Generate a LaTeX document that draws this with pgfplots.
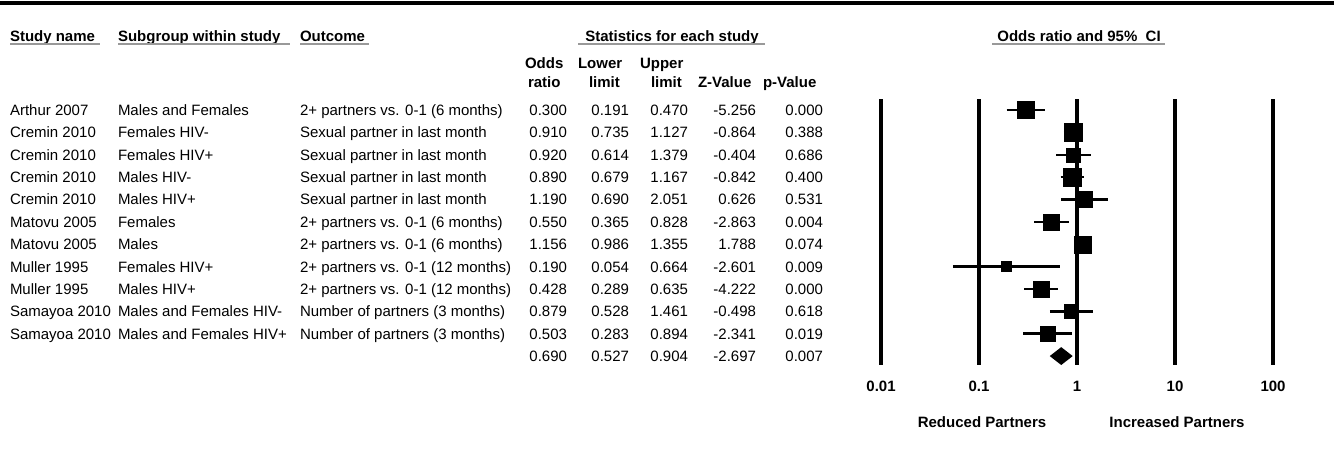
\documentclass[border=0pt]{standalone}
\usepackage{pgfplots}
\pgfplotsset{compat=1.18}
\usepackage{fontspec}
\setmainfont{Liberation Sans}

\newcommand{\trow}[9]{%
  \pgfmathsetmacro\yb{110+22.36*(#1-1)+5.5}%
  \node[anchor=base west] at (10,\yb) {#2};
  \node[anchor=base west] at (118,\yb) {#3};
  \node[anchor=base west] at (300,\yb) {#4};
  \node[anchor=base east] at (567,\yb) {#5};
  \node[anchor=base east] at (629,\yb) {#6};
  \node[anchor=base east] at (688,\yb) {#7};
  \node[anchor=base east] at (756,\yb) {#8};
  \node[anchor=base east] at (823,\yb) {#9};
}
\newcommand{\study}[5]{%
  \addplot[black, line width=2.5bp] coordinates {(#3,#1) (#4,#1)};
  \addplot[only marks, mark=square*, mark size=#5bp, mark options={draw=none, fill=black}] coordinates {(#2,#1)};
}

\begin{document}
\fontsize{15bp}{18bp}\selectfont
\begin{tikzpicture}
\begin{scope}[x=1bp, y=-1bp, every node/.style={inner sep=0pt, outer sep=0pt}]
\path[use as bounding box] (0,0) rectangle (1334,466);
\draw[line width=3.5bp] (0,3) -- (1334,3);

% headers
\begin{scope}[font=\bfseries]
\node[anchor=base west] at (10,41.5) {Study name};
\node[anchor=base west] at (118,41.5) {Subgroup within study};
\node[anchor=base west] at (300,41.5) {Outcome};
\node[anchor=base] at (672,41.5) {Statistics for each study};
\node[anchor=base] at (1079,41.5) {Odds ratio and 95\%\ \ CI};
\node[anchor=base west] at (525,68.5) {Odds};
\node[anchor=base west] at (528,87.5) {ratio};
\node[anchor=base west] at (578,68.5) {Lower};
\node[anchor=base west] at (589,87.5) {limit};
\node[anchor=base west] at (640,68.5) {Upper};
\node[anchor=base west] at (651,87.5) {limit};
\node[anchor=base west] at (698,87.5) {Z-Value};
\node[anchor=base west] at (763,87.5) {p-Value};
\node[anchor=base] at (982,427.5) {Reduced Partners};
\node[anchor=base] at (1177,427.5) {Increased Partners};
\end{scope}
\begin{scope}[gray!80, line width=1.2bp]
\draw (10,44) -- (100,44);
\draw (118,44) -- (290,44);
\draw (300,44) -- (369,44);
\draw (578,44) -- (765,44);
\draw (992,44) -- (1165,44);
\end{scope}

\trow{1}{Arthur 2007}{Males and Females}{2+ partners vs. 0-1 (6 months)}{0.300}{0.191}{0.470}{-5.256}{0.000}
\trow{2}{Cremin 2010}{Females HIV-}{Sexual partner in last month}{0.910}{0.735}{1.127}{-0.864}{0.388}
\trow{3}{Cremin 2010}{Females HIV+}{Sexual partner in last month}{0.920}{0.614}{1.379}{-0.404}{0.686}
\trow{4}{Cremin 2010}{Males HIV-}{Sexual partner in last month}{0.890}{0.679}{1.167}{-0.842}{0.400}
\trow{5}{Cremin 2010}{Males HIV+}{Sexual partner in last month}{1.190}{0.690}{2.051}{0.626}{0.531}
\trow{6}{Matovu 2005}{Females}{2+ partners vs. 0-1 (6 months)}{0.550}{0.365}{0.828}{-2.863}{0.004}
\trow{7}{Matovu 2005}{Males}{2+ partners vs. 0-1 (6 months)}{1.156}{0.986}{1.355}{1.788}{0.074}
\trow{8}{Muller 1995}{Females HIV+}{2+ partners vs. 0-1 (12 months)}{0.190}{0.054}{0.664}{-2.601}{0.009}
\trow{9}{Muller 1995}{Males HIV+}{2+ partners vs. 0-1 (12 months)}{0.428}{0.289}{0.635}{-4.222}{0.000}
\trow{10}{Samayoa 2010}{Males and Females HIV-}{Number of partners (3 months)}{0.879}{0.528}{1.461}{-0.498}{0.618}
\trow{11}{Samayoa 2010}{Males and Females HIV+}{Number of partners (3 months)}{0.503}{0.283}{0.894}{-2.341}{0.019}
\trow{12}{}{}{}{0.690}{0.527}{0.904}{-2.697}{0.007}
\end{scope}

\begin{axis}[
  at={(881bp,-99bp)}, anchor=north west,
  width=392bp, height=266bp, scale only axis,
  xmode=log, xmin=0.01, xmax=100,
  ymin=0.5, ymax=12.4, y dir=reverse,
  axis line style={draw=none},
  ytick=\empty,
  xtick={0.01,0.1,1,10,100},
  xticklabels={0.01,0.1,1,10,100},
  major tick length=0pt,
  minor tick length=0pt,
  xminorticks=false,
  minor xtick={},
  xmajorgrids,
  grid style={black, line width=3.5bp},
  xticklabel style={anchor=base, inner sep=0pt, yshift=-26.5bp, font=\bfseries},
  clip=false,
]
\study{1}{0.300}{0.191}{0.470}{8.5}
\study{2}{0.910}{0.735}{1.127}{9}
\study{3}{0.920}{0.614}{1.379}{7}
\study{4}{0.890}{0.679}{1.167}{9}
\study{5}{1.190}{0.690}{2.051}{8}
\study{6}{0.550}{0.365}{0.828}{8}
\study{7}{1.156}{0.986}{1.355}{8.5}
\study{8}{0.190}{0.054}{0.664}{5}
\study{9}{0.428}{0.289}{0.635}{8}
\study{10}{0.879}{0.528}{1.461}{7}
\study{11}{0.503}{0.283}{0.894}{7.5}
\addplot[fill=black, draw=none] coordinates {(0.527,12) (0.690,11.6) (0.904,12) (0.690,12.4) (0.527,12)};
\end{axis}
\end{tikzpicture}
\end{document}
